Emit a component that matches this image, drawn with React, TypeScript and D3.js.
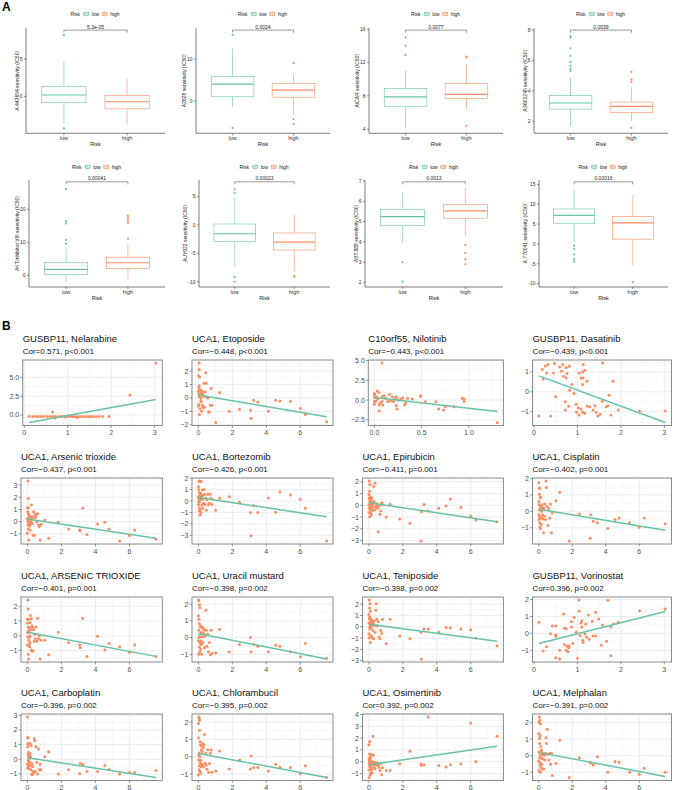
import React from "react";
import * as d3 from "d3";

const LOW_COLOR = "#66C2A5";
const HIGH_COLOR = "#FC8D62";
const FONT = "'Liberation Sans', Arial, Helvetica, sans-serif";

// ---------------- Panel A data ----------------
const riskGroups = ["low", "high"];
const boxDrugs = ["A.443654", "AZ628", "AICAR", "AS601245", "AKT.inhibitor.VIII", "AUY922", "ABT.888", "A.770041"];
const boxPLabels = ["5.3e-05", "0.0024", "0.0077", "0.0039", "0.00041", "0.00023", "0.0013", "0.00016"];
// [lower whisker, Q1, median, Q3, upper whisker]
const boxLowStats = [
  [-3.7, -0.85, 0.18, 1.35, 4.7],
  [-1.5, 1.0, 4.0, 5.8, 12.5],
  [4.2, 6.75, 7.88, 8.87, 11.0],
  [1.69, 2.8, 3.2, 3.69, 4.85],
  [-1.9, 0.3, 1.8, 3.94, 8.2],
  [-7.3, -2.9, -1.54, 0.18, 4.8],
  [3.95, 4.8, 5.25, 5.6, 6.45],
  [0.6, 5.2, 7.2, 8.8, 13.7],
];
const boxHighStats = [
  [-3.8, -1.67, -0.72, 0.1, 2.4],
  [-3.3, 0.9, 2.6, 4.2, 6.4],
  [6.4, 7.7, 8.17, 9.5, 11.8],
  [2.0, 2.58, 2.98, 3.26, 4.23],
  [-1.1, 2.0, 3.8, 5.5, 9.5],
  [-8.2, -4.4, -3.0, -1.4, 1.8],
  [4.25, 5.17, 5.53, 5.85, 6.65],
  [-5.4, 1.2, 5.3, 6.9, 12.4],
];
const boxLowOutliers = [
  [8.2, -4.3],
  [15.7, -6.4],
  [15.0, 14.0, 12.9],
  [7.6, 7.5, 6.8, 6.3, 5.9, 5.65, 5.45, 5.3],
  [26.2, 16.4, 15.7, 10.7, 9.6],
  [6.3, 5.65, -9.2, -10.0],
  [3.0, 2.05],
  [-0.4, -1.3, -2.6, -3.8, -4.4],
];
const boxHighOutliers = [
  [],
  [9.0, -4.3, -5.5],
  [12.7, 12.6, 4.4],
  [5.25, 4.75, 4.6, 1.56],
  [18.0, 17.3, 16.6, 15.8, 11.1],
  [-9.1, -9.0],
  [3.85, 3.45, 3.15, 2.9],
  [-9.6],
];
const boxYDomains = [
  [-4.95, 9.12],
  [-7.69, 17.3],
  [3.5, 16.1],
  [1.21, 8.11],
  [-3.55, 28.9],
  [-10.93, 7.94],
  [1.78, 7.05],
  [-10.83, 16.08],
];
const boxYTicks = [
  [0, 5],
  [0, 10],
  [4, 8, 12, 16],
  [2, 4, 6, 8],
  [0, 10, 20],
  [-10, -5, 0, 5],
  [2, 3, 4, 5, 6, 7],
  [-10, -5, 0, 5, 10, 15],
];

// ---------------- Panel B data ----------------
const scatterTitles = [
  "GUSBP11, Nelarabine", "UCA1, Etoposide", "C10orf55, Nilotinib", "GUSBP11, Dasatinib",
  "UCA1, Arsenic trioxide", "UCA1, Bortezomib", "UCA1, Epirubicin", "UCA1, Cisplatin",
  "UCA1, ARSENIC TRIOXIDE", "UCA1, Uracil mustard", "UCA1, Teniposide", "GUSBP11, Vorinostat",
  "UCA1, Carboplatin", "UCA1, Chlorambucil", "UCA1, Osimertinib", "UCA1, Melphalan",
];
const scatterSubtitles = [
  "Cor=0.571, p<0.001", "Cor=\u22120.448, p<0.001", "Cor=\u22120.443, p<0.001", "Cor=\u22120.439, p<0.001",
  "Cor=\u22120.437, p<0.001", "Cor=\u22120.426, p<0.001", "Cor=\u22120.411, p=0.001", "Cor=\u22120.402, p=0.001",
  "Cor=\u22120.401, p=0.001", "Cor=\u22120.398, p=0.002", "Cor=\u22120.398, p=0.002", "Cor=0.396, p=0.002",
  "Cor=\u22120.396, p=0.002", "Cor=\u22120.395, p=0.002", "Cor=0.392, p=0.002", "Cor=\u22120.391, p=0.002",
];
// fitted line [intercept, slope]
const scatterFits = [
  [-1.115, 1.045], [0.21, -0.214], [0.33, -1.38], [0.89, -0.806],
  [0.22, -0.209], [0.3, -0.221], [0.23, -0.215], [0.12, -0.167],
  [0.24, -0.217], [0.25, -0.203], [0.23, -0.202], [-0.67, 0.65],
  [0.11, -0.179], [0.19, -0.184], [-0.25, 0.206], [0.2, -0.193],
];
const scatterXTicks = [
  [0, 1, 2, 3], [0, 2, 4, 6], [0, 0.5, 1.0], [0, 1, 2, 3],
  [0, 2, 4, 6], [0, 2, 4, 6], [0, 2, 4, 6], [0, 2, 4, 6],
  [0, 2, 4, 6], [0, 2, 4, 6], [0, 2, 4, 6], [0, 1, 2, 3],
  [0, 2, 4, 6], [0, 2, 4, 6], [0, 2, 4, 6], [0, 2, 4, 6],
];
const scatterYTicks = [
  [0, 2.5, 5], [-2, -1, 0, 1, 2], [-2.5, 0, 2.5, 5], [-1, 0, 1],
  [-1, 0, 1, 2, 3], [-3, -2, -1, 0, 1, 2], [-3, -2, -1, 0, 1, 2], [-1, 0, 1, 2],
  [-1, 0, 1, 2], [-1, 0, 1, 2], [-3, -2, -1, 0, 1, 2], [-1, 0, 1, 2],
  [-1, 0, 1, 2, 3], [-1, 0, 1, 2], [-1, 0, 1, 2, 3, 4], [-1, 0, 1, 2],
];

// UCA1 expression (shared across UCA1 plots)
const uca1X = [
  0.0, 0.0, 0.01, 0.02, 0.02, 0.03, 0.04, 0.05, 0.05, 0.06,
  0.07, 0.08, 0.09, 0.1, 0.1, 0.12, 0.13, 0.15, 0.16, 0.18,
  0.2, 0.22, 0.24, 0.26, 0.28, 0.3, 0.33, 0.36, 0.4, 0.43,
  0.46, 0.5, 0.55, 0.6, 0.65, 0.7, 0.75, 0.8, 0.05, 0.15,
  1.02, 1.25, 1.82, 2.42, 3.07, 3.1, 3.25, 3.5, 4.12, 4.55, 4.8, 5.42, 6.0, 6.3, 7.55,
];
const etoposideY = [
  0.5, -0.6, 1.65, 0.3, -0.5, 0.77, 2.6, 2.1, 0.1, -1.23,
  1.55, 0.4, 0.2, -0.8, 0.6, 0.35, 0.0, 0.45, -0.3, 0.25,
  -1.0, 0.5, -0.55, 0.3, -0.7, 0.1, 1.1, -0.7, 0.45, 1.88,
  1.1, 0.07, 0.0, -1.04, -1.04, -0.54, 0.7, -0.54, 0.9, -0.2,
  -1.83, 0.4, -0.99, -0.84, -0.91, -1.53, -0.17, -0.3, -0.99, -0.17, -0.22, -0.25, -0.79, -1.23, -1.78,
];
const arsenicY = [
  0.27, -0.95, 1.14, 0.82, -0.27, 0.05, 3.33, 1.9, -0.6, 1.14,
  0.6, -1.5, 0.3, -0.1, 0.5, 0.15, -0.35, 0.4, 0.1, -0.2,
  0.35, -0.05, 1.36, 0.2, -0.15, 0.4, -1.1, 0.82, -1.1, 0.6,
  0.33, 0.5, 0.0, 0.68, -0.27, -0.4, -1.5, -0.2, 0.0, -0.7,
  0.14, -1.36, -0.05, -0.6, -0.68, -0.75, 1.09, -1.04, -0.19, -0.05, -0.6, -1.58, -1.14, -0.68, -1.42,
];
const bortezomibY = [
  1.25, 0.38, -0.3, 1.0, -0.05, 0.23, 1.75, -0.87, 0.75, -0.6,
  0.1, 1.7, -1.22, 0.5, -0.8, 0.7, 0.23, -1.0, 1.7, 0.4,
  -0.35, 0.15, 0.96, -0.65, 0.5, -0.2, 1.0, 0.6, -0.3, 0.23,
  -0.8, 0.1, 0.6, -0.3, -0.2, 0.6, 0.23, -0.3, -0.1, 0.3,
  -0.8, 0.23, 0.38, -0.12, -1.0, -3.05, -0.4, -1.0, 0.27, -0.99, 0.82, 0.52, 0.15, -0.64, -3.5,
];
const epirubicinY = [
  0.93, 0.03, -0.6, 0.6, -0.25, 2.07, 1.2, 0.3, -0.96, 1.78,
  0.74, -0.4, 0.2, -0.1, -0.68, 0.45, 0.1, -0.82, 0.3, 0.65,
  -0.45, 0.0, -0.1, 0.3, 1.6, 0.31, -0.4, 1.87, -0.15, 0.15,
  0.0, -0.25, -2.24, -0.05, -0.76, -0.48, 0.23, 0.1, 0.55, -0.3,
  -1.0, 0.1, -1.16, -1.53, -3.03, -0.54, 0.08, -0.48, -0.25, -0.06, 0.54, -0.17, -0.9, -1.25, -1.39,
];
const cisplatinY = [
  1.74, -0.2, 0.6, 1.4, -0.5, 0.4, 1.04, -0.7, 0.1, 1.4,
  -0.96, 0.84, -0.3, -1.06, 0.3, 0.84, -0.4, -0.8, 0.2, -0.4,
  0.4, -0.2, -0.46, 0.2, -1.3, 0.16, -0.3, 0.44, -0.5, 1.84,
  1.44, 0.3, -0.86, 0.16, -0.4, 0.44, -1.3, -0.1, -0.35, 0.0,
  0.64, 1.16, -1.8, -0.16, -1.64, -0.2, -0.6, -0.7, -1.04, -0.5, -0.4, -0.7, -0.96, -0.4, -0.76,
];
const arsenicUpperY = [
  0.85, -0.63, 1.12, 0.24, -0.09, 2.43, 1.82, -1.25, 0.57, 1.12,
  -1.58, -0.3, 0.35, -0.63, 0.57, -0.09, -0.74, 0.9, -0.02, 1.38,
  0.4, -0.96, 1.16, 0.68, -1.03, 0.57, -1.03, 0.4, -0.37, 0.1,
  -0.2, 0.6, -0.37, 1.18, -0.2, 0.0, -1.58, -0.3, 0.2, -0.45,
  -0.3, -1.29, 0.24, -0.46, -0.63, -0.81, 1.18, -1.4, -0.04, -0.96, -0.53, -0.74, -1.12, -0.63, -1.4,
];
const uracilY = [
  1.3, -0.19, 2.25, 0.44, -1.0, 2.2, 1.1, -0.57, 0.82, 1.97,
  0.06, -0.86, 1.78, -0.33, 0.63, 0.25, -0.7, 0.69, -0.42, 0.3,
  -1.0, 0.6, 0.06, -0.3, 0.57, 0.25, 0.44, -0.6, 0.1, 1.64,
  0.44, -0.52, 0.2, -0.84, -0.3, -1.03, 0.44, -0.95, 0.0, -0.2,
  -0.9, 0.5, -0.84, -0.42, 0.0, -0.84, -0.42, -0.52, -0.84, -0.46, -0.52, -0.84, -1.15, -0.36, -1.24,
];
const teniposideY = [
  1.09, -0.63, 0.31, 2.37, -1.0, 0.71, 1.66, -0.2, 0.89, 2.03,
  0.43, -1.4, 1.37, -0.77, 0.14, 0.66, -0.06, -0.83, 0.6, 0.14,
  -1.0, 0.43, -0.34, 0.3, -1.06, 0.5, 0.1, -0.5, 1.46, 2.03,
  0.66, 0.09, 0.43, -0.91, -1.06, -0.34, -0.6, 0.66, 0.0, 0.3,
  -1.49, 0.66, -0.83, -1.06, -0.49, -2.86, -0.2, -0.2, -0.49, -0.06, -0.11, -0.2, -0.26, -1.0, -1.69,
];
const carboplatinY = [
  1.46, -0.34, 2.88, 0.85, -0.61, 1.08, 0.34, -0.11, 1.46, 1.03,
  0.47, -0.38, 0.18, -0.65, 0.02, 0.29, -0.2, 1.08, -0.43, 0.18,
  -0.72, 0.92, -1.01, -0.3, -1.06, -0.5, -0.83, -0.94, 1.42, 1.26,
  -0.83, 0.85, -0.2, -1.0, 0.7, -0.72, -0.34, -0.72, -0.5, 0.4,
  0.18, 0.52, -1.01, -0.72, -0.99, -0.27, -0.34, -0.83, -0.83, -0.43, -0.7, -1.01, -0.9, -0.9, -0.76,
];
const chlorambucilY = [
  1.91, -1.05, 1.09, -0.19, 0.1, 2.29, 2.2, -0.52, -0.76, 2.1,
  1.53, 0.0, -0.86, 0.86, -0.33, 0.67, -0.96, -0.57, 0.38, 0.61,
  -0.44, 0.29, -0.48, 0.76, 0.52, -0.6, 0.67, 1.28, -0.38, 0.2,
  -0.48, -0.73, 0.4, -0.9, -0.4, 0.2, 0.38, -0.9, 0.2, -0.2,
  -0.82, 0.33, -0.71, -0.19, -0.71, 0.04, -0.63, -0.63, -0.82, -0.44, -0.61, -0.63, -0.99, -0.52, -1.2,
];
const osimertinibY = [
  1.44, -0.68, 0.25, -1.33, 0.03, -0.2, 0.65, 1.72, -0.4, -0.03,
  0.37, -1.1, 0.17, -0.96, -0.25, -0.03, -0.5, 0.59, -0.2, -0.96,
  0.0, -0.25, 2.15, 0.54, -0.48, -0.03, -0.2, -0.6, -0.1, -0.3,
  -0.2, -0.1, -0.3, -0.48, -0.73, -0.15, -1.1, -0.5, 0.1, -0.7,
  -0.73, -0.73, -0.17, 0.88, -0.2, -0.31, -0.25, 3.78, -0.31, -0.45, -0.25, -0.17, 3.28, 0.03, 2.15,
];
const melphalanY = [
  1.34, -0.32, 2.04, 0.2, -0.92, 2.34, 1.04, -0.12, 0.74, 2.14,
  -0.56, 1.2, -1.0, 0.04, 1.94, -0.72, 0.54, -0.16, 0.34, -0.52,
  0.04, -0.8, 0.14, -0.2, 0.1, -0.8, 0.04, -0.26, 0.14, 1.08,
  0.74, 1.6, 0.08, -0.26, 0.14, -0.52, 0.14, -1.2, -0.4, 0.3,
  -0.46, 0.94, -1.32, -0.12, -0.4, -0.45, -0.56, -0.06, -1.0, -0.36, -0.4, -1.0, -1.12, -0.76, -1.0,
];

const nelarabinePts: [number, number][] = [
  [0.11, -0.2], [0.19, -0.2], [0.26, -0.2], [0.32, -0.2], [0.39, -0.2], [0.45, -0.2], [0.53, -0.2], [0.6, -0.2],
  [0.65, 0.4], [0.66, -0.2], [0.71, -0.4], [0.72, -0.2], [0.77, -0.25], [0.83, -0.2], [0.88, -0.2], [0.93, -0.25],
  [0.97, -0.2], [1.0, -0.15], [1.05, -0.2], [1.1, -0.2], [1.14, -0.25], [1.2, -0.2], [1.22, -0.35], [1.28, -0.2],
  [1.35, -0.2], [1.41, -0.2], [1.47, -0.2], [1.52, -0.2], [1.58, -0.2], [1.65, -0.2], [1.72, -0.2], [1.8, -0.2],
  [1.95, -0.2], [2.43, 2.65], [3.03, 6.9],
];
const nilotinibPts: [number, number][] = [
  [0, 0.84], [0, 0.63], [0, 0.3], [0, -0.2], [0, -0.54], [0.02, 0.42], [0.03, 1.13], [0.045, 0.96],
  [0.035, 0.13], [0.017, -0.13], [0.05, -0.63], [0.06, -0.42], [0.05, -1.38], [0.08, 4.69], [0.08, 0.42],
  [0.08, -0.2], [0.087, -0.63], [0.1, 0.54], [0.12, 0.21], [0.14, -0.2], [0.16, 0.71], [0.17, -0.13],
  [0.19, 0.42], [0.2, -0.2], [0.22, 0.21], [0.23, -0.71], [0.24, -1.13], [0.23, 0.42], [0.25, 0.0],
  [0.28, 0.13], [0.3, 0.3], [0.32, -0.63], [0.33, -0.42], [0.35, 0.21], [0.4, 0.13], [0.49, 0.54],
  [0.49, 0.46], [0.54, -0.21], [0.65, -0.21], [0.68, -1.13], [0.73, -1.26], [0.75, -0.84], [0.84, -0.84],
  [0.93, 0.21], [0.95, 0.13], [0.95, -0.2], [1.3, -2.85],
];
const dasatinibPts: [number, number][] = [
  [0.11, -1.22], [0.19, 1.12], [0.21, 0.65], [0.26, 1.3], [0.32, 1.37], [0.29, 0.95], [0.38, -1.22],
  [0.45, 0.95], [0.47, 1.42], [0.5, -0.25], [0.59, 1.25], [0.63, 1.03], [0.66, 1.37], [0.68, 0.78],
  [0.72, -0.5], [0.72, -0.92], [0.74, 1.22], [0.74, 0.7], [0.76, 0.92], [0.8, -0.72], [0.81, 1.28],
  [0.82, 0.08], [0.87, 0.37], [0.92, -0.08], [0.97, -0.62], [0.98, -1.03], [1.02, -0.8], [1.04, 0.95],
  [1.04, -1.17], [1.08, 0.7], [1.08, -0.87], [1.12, 1.0], [1.12, 0.37], [1.12, -1.03], [1.13, 1.37],
  [1.13, 0.7], [1.17, 1.08], [1.17, -1.08], [1.22, 0.53], [1.22, -0.72], [1.28, -0.75], [1.36, -0.92],
  [1.4, -0.7], [1.43, -1.03], [1.47, -1.22], [1.52, -1.13], [1.57, -0.47], [1.58, 1.45], [1.66, -0.75],
  [1.7, -0.7], [1.73, -0.17], [1.77, -1.17], [1.82, 0.53], [1.94, -0.92], [2.43, -0.97], [3.02, -0.97],
];
const vorinostatPts: [number, number][] = [
  [0.11, 0.66], [0.21, -1.04], [0.29, -0.79], [0.38, -0.02], [0.42, 0.43], [0.5, 0.43], [0.5, -0.08],
  [0.5, -0.17], [0.5, -1.43], [0.59, -0.99], [0.59, -1.51], [0.68, 1.14], [0.7, 0.31], [0.74, 0.27],
  [0.7, -0.66], [0.76, -0.74], [0.74, -0.99], [0.78, -1.08], [0.8, -0.85], [0.81, -0.74], [0.86, 0.7],
  [0.86, 0.37], [0.89, -0.6], [0.92, 0.95], [0.97, 0.08], [1.0, -1.47], [1.04, 1.97], [1.04, 1.3],
  [1.06, -0.12], [1.08, 0.62], [1.1, 0.75], [1.1, 0.37], [1.12, -0.41], [1.13, -0.54], [1.17, -0.02],
  [1.19, 0.56], [1.21, -0.21], [1.25, 1.08], [1.27, -0.35], [1.34, 0.7], [1.36, -0.15], [1.42, 1.24],
  [1.42, -0.15], [1.49, 0.85], [1.55, -0.7], [1.58, 0.5], [1.67, -0.46], [1.7, 1.95], [1.77, -1.32],
  [1.77, 0.37], [1.83, 0.56], [1.94, 0.66], [2.43, 1.33], [3.02, 1.43],
];

const zipX = (ys: number[]): [number, number][] => ys.map((y, i) => [uca1X[i], y]);

const scatterPoints: [number, number][][] = [
  nelarabinePts, zipX(etoposideY), nilotinibPts, dasatinibPts,
  zipX(arsenicY), zipX(bortezomibY), zipX(epirubicinY), zipX(cisplatinY),
  zipX(arsenicUpperY), zipX(uracilY), zipX(teniposideY), vorinostatPts,
  zipX(carboplatinY), zipX(chlorambucilY), zipX(osimertinibY), zipX(melphalanY),
];

// ---------------- layout ----------------
const W = 676;
const H = 790;
const boxAxisX = [
  [26, 196, 369, 534],
  [29, 199, 365, 539],
];
const boxRight = [165, 330, 503, 668];
const boxTop = [28.3, 180];
const boxBottom = [133.3, 287];
const boxLegendY = [14, 167];

const colAnchor = [13, 184, 354.5, 524.5];
const colRight = [162.3, 333, 503.4, 671.5];
const rowTop = [360, 478, 597, 714];
const rowBottom = [425.5, 544, 662, 780.5];

function charW(ch: string) {
  if (ch === ".") return 0.278;
  if (ch === "\u2212") return 0.584;
  if (ch === "-") return 0.333;
  return 0.556;
}
function textWidth(s: string, size: number) {
  let w = 0;
  for (const ch of s) w += charW(ch);
  return w * size;
}
function fmt(v: number, dec: number, minus: string) {
  const s = dec > 0 ? v.toFixed(dec) : String(v);
  return s.replace("-", minus);
}
function minorBreaks(ticks: number[], lo: number, hi: number) {
  if (ticks.length < 2) return [];
  const step = ticks[1] - ticks[0];
  const ext = [ticks[0] - step, ...ticks, ticks[ticks.length - 1] + step];
  const out: number[] = [];
  for (let i = 0; i < ext.length - 1; i++) {
    const m = (ext[i] + ext[i + 1]) / 2;
    if (m >= lo && m <= hi) out.push(m);
  }
  return out;
}

function BoxPanel({ idx }: { idx: number }) {
  const row = Math.floor(idx / 4);
  const col = idx % 4;
  const ax = boxAxisX[row][col];
  const right = boxRight[col];
  const top = boxTop[row];
  const bottom = boxBottom[row];
  const x = d3.scalePoint<string>().domain(riskGroups).range([ax, right]).padding(0.6);
  const y = d3.scaleLinear().domain(boxYDomains[idx]).range([bottom, top]);
  const step = x.step();
  const bw = step * 0.7;
  const ticks = boxYTicks[idx];
  const tickLabels = ticks.map((t) => fmt(t, 0, "-"));
  const maxLW = d3.max(tickLabels, (l) => textWidth(l, 5)) || 0;
  const titleX = ax - 3.5 - maxLW - 1.2;
  const groups = [
    { g: "low", s: boxLowStats[idx], o: boxLowOutliers[idx], c: LOW_COLOR },
    { g: "high", s: boxHighStats[idx], o: boxHighOutliers[idx], c: HIGH_COLOR },
  ];
  const xl = x("low")!;
  const xh = x("high")!;
  const bracketY = top + 1.8;
  // legend
  const cx = (ax + right) / 2 - 1.5;
  const legW = 47.2;
  const lx = cx - legW / 2;
  const ly = boxLegendY[row];
  const key = (kx: number, c: string) => (
    <g>
      <line x1={kx + 2.5} x2={kx + 2.5} y1={ly - 2.6} y2={ly + 2.6} stroke={c} strokeWidth={0.6} />
      <rect x={kx} y={ly - 1.6} width={5} height={3.2} fill="white" stroke={c} strokeWidth={0.6} />
      <line x1={kx} x2={kx + 5} y1={ly} y2={ly} stroke={c} strokeWidth={0.8} />
    </g>
  );
  return (
    <g>
      {/* legend */}
      <text x={lx} y={ly + 1.8} fontSize={5} fill="#222">Risk</text>
      {key(lx + 13.3, LOW_COLOR)}
      <text x={lx + 21.3} y={ly + 1.8} fontSize={5} fill="#222">low</text>
      {key(lx + 31.8, HIGH_COLOR)}
      <text x={lx + 39.8} y={ly + 1.8} fontSize={5} fill="#222">high</text>
      {/* boxes */}
      {groups.map(({ g, s, o, c }) => {
        const gx = x(g)!;
        return (
          <g key={g}>
            <line x1={gx} x2={gx} y1={y(s[0])} y2={y(s[1])} stroke={c} strokeWidth={0.6} />
            <line x1={gx} x2={gx} y1={y(s[3])} y2={y(s[4])} stroke={c} strokeWidth={0.6} />
            <rect x={gx - bw / 2} y={y(s[3])} width={bw} height={y(s[1]) - y(s[3])} fill="white" stroke={c} strokeWidth={0.6} />
            <line x1={gx - bw / 2} x2={gx + bw / 2} y1={y(s[2])} y2={y(s[2])} stroke={c} strokeWidth={1.2} />
            {o.map((v, i) => (
              <circle key={i} cx={gx} cy={y(v)} r={1.1} fill={c} />
            ))}
          </g>
        );
      })}
      {/* significance bracket */}
      <path d={`M${xl},${bracketY + 2.6}V${bracketY}H${xh}V${bracketY + 2.6}`} fill="none" stroke="#555" strokeWidth={0.6} />
      <text x={(xl + xh) / 2} y={bracketY - 1.4} fontSize={5} textAnchor="middle" fill="#222">{boxPLabels[idx]}</text>
      {/* axes */}
      <line x1={ax} x2={ax} y1={top} y2={bottom} stroke="#444" strokeWidth={0.7} />
      <line x1={ax} x2={right} y1={bottom} y2={bottom} stroke="#444" strokeWidth={0.7} />
      {ticks.map((t, i) => (
        <g key={t}>
          <line x1={ax - 2} x2={ax} y1={y(t)} y2={y(t)} stroke="#444" strokeWidth={0.6} />
          <text x={ax - 3.5} y={y(t) + 1.8} fontSize={5} textAnchor="end" fill="#333">{tickLabels[i]}</text>
        </g>
      ))}
      {riskGroups.map((g) => (
        <g key={g}>
          <line x1={x(g)} x2={x(g)} y1={bottom} y2={bottom + 2} stroke="#444" strokeWidth={0.6} />
          <text x={x(g)} y={bottom + 6.6} fontSize={5.5} textAnchor="middle" fill="#333">{g}</text>
        </g>
      ))}
      <text x={(ax + right) / 2} y={bottom + 12.6} fontSize={5.5} textAnchor="middle" fill="#222">Risk</text>
      <text
        transform={`translate(${titleX},${(top + bottom) / 2}) rotate(-90)`}
        fontSize={5}
        textAnchor="middle"
        fill="#222"
      >
        {`${boxDrugs[idx]} sensitivity (IC50)`}
      </text>
    </g>
  );
}

function ScatterPanel({ idx }: { idx: number }) {
  const row = Math.floor(idx / 4);
  const col = idx % 4;
  const pts = scatterPoints[idx];
  const [b0, b1] = scatterFits[idx];
  const xMin = d3.min(pts, (p) => p[0])!;
  const xMax = d3.max(pts, (p) => p[0])!;
  const lineYs = [b0 + b1 * xMin, b0 + b1 * xMax];
  const yVals = pts.map((p) => p[1]).concat(lineYs);
  const yLo = d3.min(yVals)!;
  const yHi = d3.max(yVals)!;
  const xPad = (xMax - xMin) * 0.05;
  const yPad = (yHi - yLo) * 0.05;
  const yt = scatterYTicks[idx];
  const xt = scatterXTicks[idx];
  const yDec = yt.some((v) => !Number.isInteger(v)) ? 1 : 0;
  const xDec = xt.some((v) => !Number.isInteger(v)) ? 1 : 0;
  const yLabels = yt.map((v) => fmt(v, yDec, "\u2212"));
  const xLabels = xt.map((v) => fmt(v, xDec, "\u2212"));
  const maxLW = d3.max(yLabels, (l) => textWidth(l, 7)) || 0;
  const left = colAnchor[col] + maxLW;
  const right = colRight[col];
  const top = rowTop[row];
  const bottom = rowBottom[row];
  const xDom = [xMin - xPad, xMax + xPad];
  const yDom = [yLo - yPad, yHi + yPad];
  const x = d3.scaleLinear().domain(xDom).range([left, right]);
  const y = d3.scaleLinear().domain(yDom).range([bottom, top]);
  const xMinor = minorBreaks(xt, xDom[0], xDom[1]);
  const yMinor = minorBreaks(yt, yDom[0], yDom[1]);
  const line = d3.line<number>().x((v) => x(v)).y((v) => y(b0 + b1 * v));
  return (
    <g>
      <text x={left} y={top - 17.6} fontSize={9.5} fill="#111">{scatterTitles[idx]}</text>
      <text x={left} y={top - 6} fontSize={8} fill="#111">{scatterSubtitles[idx]}</text>
      <rect x={left} y={top} width={right - left} height={bottom - top} fill="white" />
      {xMinor.map((v) => (
        <line key={"xm" + v} x1={x(v)} x2={x(v)} y1={top} y2={bottom} stroke="#F0F0F0" strokeWidth={0.5} />
      ))}
      {yMinor.map((v) => (
        <line key={"ym" + v} x1={left} x2={right} y1={y(v)} y2={y(v)} stroke="#F0F0F0" strokeWidth={0.5} />
      ))}
      {xt.map((v) => (
        <line key={"xg" + v} x1={x(v)} x2={x(v)} y1={top} y2={bottom} stroke="#EBEBEB" strokeWidth={0.9} />
      ))}
      {yt.map((v) => (
        <line key={"yg" + v} x1={left} x2={right} y1={y(v)} y2={y(v)} stroke="#EBEBEB" strokeWidth={0.9} />
      ))}
      {pts.map((p, i) => (
        <circle key={i} cx={x(p[0])} cy={y(p[1])} r={1.5} fill={HIGH_COLOR} />
      ))}
      <path d={line([xMin, xMax]) || ""} fill="none" stroke={LOW_COLOR} strokeWidth={1.5} />
      <rect x={left} y={top} width={right - left} height={bottom - top} fill="none" stroke="#8a8a8a" strokeWidth={1} />
      {yt.map((v, i) => (
        <g key={"yt" + v}>
          <line x1={left - 2.5} x2={left} y1={y(v)} y2={y(v)} stroke="#555" strokeWidth={0.6} />
          <text x={left - 3.5} y={y(v) + 2.5} fontSize={7} textAnchor="end" fill="#4D4D4D">{yLabels[i]}</text>
        </g>
      ))}
      {xt.map((v, i) => (
        <g key={"xt" + v}>
          <line x1={x(v)} x2={x(v)} y1={bottom} y2={bottom + 2.5} stroke="#555" strokeWidth={0.6} />
          <text x={x(v)} y={bottom + 9.5} fontSize={7} textAnchor="middle" fill="#4D4D4D">{xLabels[i]}</text>
        </g>
      ))}
    </g>
  );
}

export default function App() {
  return (
    <svg
      width={W}
      height={H}
      viewBox={`0 0 ${W} ${H}`}
      style={{ position: "absolute", left: 0, top: 0, background: "white", fontFamily: FONT }}
    >
      <rect x={0} y={0} width={W} height={H} fill="white" />
      <text x={2} y={10.5} fontSize={12} fontWeight="bold" fill="#000">A</text>
      <text x={2} y={329.5} fontSize={12} fontWeight="bold" fill="#000">B</text>
      {boxDrugs.map((_, i) => (
        <BoxPanel key={"b" + i} idx={i} />
      ))}
      {scatterTitles.map((_, i) => (
        <ScatterPanel key={"s" + i} idx={i} />
      ))}
    </svg>
  );
}
